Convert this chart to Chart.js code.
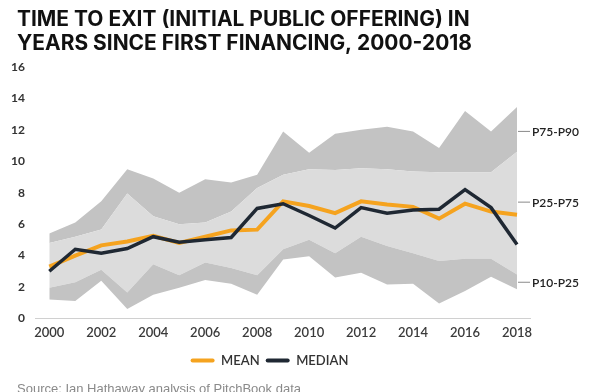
<!DOCTYPE html>
<html>
<head>
<meta charset="utf-8">
<script src="https://cdn.jsdelivr.net/npm/chart.js@4.4.1/dist/chart.umd.min.js"></script>
<style>
  html, body { margin: 0; padding: 0; background: #ffffff; overflow: hidden; }
  #wrap { width: 600px; height: 402px; position: relative; }
</style>
</head>
<body>
<div id="wrap"><canvas id="c" width="600" height="402"></canvas></div>
<script>
// ---- data ----
const years  = [2000, 2001, 2002, 2003, 2004, 2005, 2006, 2007, 2008, 2009, 2010, 2011, 2012, 2013, 2014, 2015, 2016, 2017, 2018];
const p10    = [1.2, 1.1, 2.4, 0.6, 1.5, 1.95, 2.45, 2.2, 1.5, 3.75, 3.95, 2.6, 2.9, 2.15, 2.2, 0.95, 1.75, 2.65, 1.85];
const p25    = [1.95, 2.3, 3.1, 1.65, 3.45, 2.75, 3.55, 3.2, 2.75, 4.4, 5.0, 4.15, 5.2, 4.6, 4.15, 3.65, 3.8, 3.8, 2.8];
const p75    = [4.8, 5.2, 5.65, 7.95, 6.5, 6.0, 6.1, 6.8, 8.3, 9.15, 9.5, 9.45, 9.55, 9.5, 9.35, 9.3, 9.3, 9.3, 10.6];
const p90    = [5.4, 6.1, 7.45, 9.5, 8.9, 8.0, 8.85, 8.65, 9.15, 11.9, 10.55, 11.75, 12.0, 12.2, 11.9, 10.85, 13.2, 11.9, 13.45];
const mean   = [3.3, 4.0, 4.65, 4.9, 5.25, 4.8, 5.2, 5.6, 5.65, 7.45, 7.15, 6.7, 7.45, 7.25, 7.1, 6.35, 7.3, 6.8, 6.6];
const median = [3.0, 4.4, 4.15, 4.45, 5.2, 4.85, 5.0, 5.15, 7.0, 7.3, 6.55, 5.75, 7.05, 6.7, 6.9, 6.95, 8.2, 7.05, 4.7];
const yTicks = [0, 2, 4, 6, 8, 10, 12, 14, 16];
const xTicks = [2000, 2002, 2004, 2006, 2008, 2010, 2012, 2014, 2016, 2018];
const titleLines = ['TIME TO EXIT (INITIAL PUBLIC OFFERING) IN', 'YEARS SINCE FIRST FINANCING, 2000-2018'];
const bandLabels = ['P75-P90', 'P25-P75', 'P10-P25'];
const sourceText = 'Source: Ian Hathaway analysis of PitchBook data';

// ---- styling ----
const ORANGE = '#f5a31f';
const NAVY = '#1f2833';
const DARK_BAND = '#c3c3c3';
const LIGHT_BAND = '#dcdcdc';

const pts = arr => years.map((yr, i) => ({ x: yr, y: arr[i] }));

// fit title font to its width in the reference
const mctx = document.createElement('canvas').getContext('2d');
mctx.font = '700 100px Inter';
const w100 = mctx.measureText(titleLines[0]).width;
const titleSize = Math.min(23, 453 / w100 * 100);

// title + source text, drawn at the reference's left margin
const textPlugin = {
  id: 'pageText',
  afterDraw(chart) {
    const { ctx } = chart;
    ctx.save();
    ctx.textAlign = 'left';
    ctx.textBaseline = 'middle';
    ctx.fillStyle = '#111';
    ctx.font = `700 ${titleSize}px Inter`;
    titleLines.forEach((t, i) => ctx.fillText(t, 17, 20 + i * 24));
    ctx.fillStyle = '#8a8a8a';
    ctx.font = '400 13px "Liberation Sans"';
    ctx.fillText(sourceText, 17, 389);
    ctx.restore();
  }
};

// right-hand band labels
const bandLabelPlugin = {
  id: 'bandLabels',
  afterDatasetsDraw(chart, args, opts) {
    const { ctx, chartArea, scales } = chart;
    const xEnd = scales.x.getPixelForValue(years[years.length - 1]);
    ctx.save();
    opts.items.forEach(it => {
      const y = scales.y.getPixelForValue(it.at);
      ctx.strokeStyle = '#8a8a8a';
      ctx.lineWidth = 1;
      ctx.beginPath();
      ctx.moveTo(xEnd + 1, y);
      ctx.lineTo(chartArea.right, y);
      ctx.stroke();
      ctx.fillStyle = '#222';
      ctx.font = '600 12px Lato';
      ctx.textBaseline = 'middle';
      ctx.textAlign = 'left';
      ctx.fillText(it.text, chartArea.right + 2, y + 0.5);
    });
    ctx.restore();
  }
};

const line = (label, arr, color, width, order) => ({
  label, data: pts(arr), borderColor: color, backgroundColor: color,
  borderWidth: width, pointRadius: 0, tension: 0, fill: false,
  borderJoinStyle: 'miter', borderCapStyle: 'butt', order
});
const band = (label, arr, fillColor) => ({
  label, data: pts(arr), borderWidth: 0, borderColor: 'rgba(0,0,0,0)',
  backgroundColor: fillColor, pointRadius: 0, tension: 0,
  fill: fillColor ? '-1' : false, order: 10
});

new Chart(document.getElementById('c'), {
  type: 'line',
  data: {
    datasets: [
      band('P10', p10, null),
      band('P25', p25, DARK_BAND),
      band('P75', p75, LIGHT_BAND),
      band('P90', p90, DARK_BAND),
      line('MEAN', mean, ORANGE, 4, 1),
      line('MEDIAN', median, NAVY, 3.5, 0)
    ]
  },
  options: {
    responsive: false,
    animation: false,
    events: [],
    layout: { padding: { left: 9, right: 70, top: 67, bottom: 25 } },
    scales: {
      x: {
        type: 'linear',
        min: 1999.45,
        max: 2018.5,
        afterBuildTicks: s => { s.ticks = xTicks.map(v => ({ value: v })); },
        grid: { display: false, drawTicks: false },
        border: { display: true, color: '#d0d0d0', width: 1 },
        ticks: {
          autoSkip: false, maxRotation: 0, padding: 7,
          color: '#3a3a3a',
          font: { family: 'Lato', size: 13, weight: '600' },
          callback: v => String(v)
        }
      },
      y: {
        min: 0, max: 16,
        afterBuildTicks: s => { s.ticks = yTicks.map(v => ({ value: v })); },
        afterFit: s => { s.width = 26; },
        grid: { display: false, drawTicks: false },
        border: { display: false },
        ticks: {
          padding: 10, color: '#333',
          font: { family: 'Lato', size: 12, weight: '700' }
        }
      }
    },
    plugins: {
      tooltip: { enabled: false },
      title: { display: false },
      legend: {
        display: true,
        position: 'bottom',
        labels: {
          filter: item => item.text === 'MEAN' || item.text === 'MEDIAN',
          sort: (a, b) => a.datasetIndex - b.datasetIndex,
          boxWidth: 24,
          boxHeight: 4,
          useBorderRadius: true,
          borderRadius: 2,
          padding: 6,
          color: '#333',
          font: { family: 'Lato', size: 13, weight: '600' },
          generateLabels: chart => Chart.defaults.plugins.legend.labels.generateLabels(chart)
            .map(l => Object.assign(l, { fillStyle: l.strokeStyle, lineWidth: 0 }))
        }
      },
      bandLabels: {
        items: [
          { text: bandLabels[0], at: 11.9 },
          { text: bandLabels[1], at: 7.4 },
          { text: bandLabels[2], at: 2.3 }
        ]
      }
    }
  },
  plugins: [bandLabelPlugin, textPlugin]
});
</script>
</body>
</html>
